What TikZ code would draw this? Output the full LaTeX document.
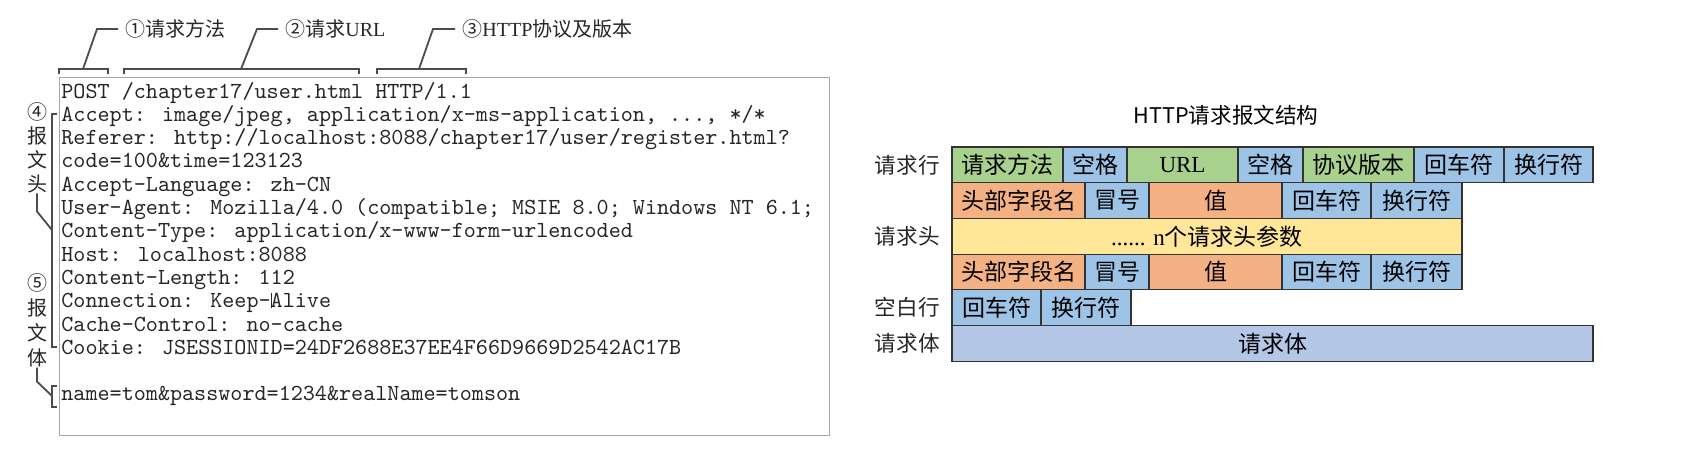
\documentclass[tikz,border=0pt]{standalone}
\usepackage{fontspec}
\setmainfont{Liberation Serif}
\newfontfamily\cjk{Noto Sans CJK SC}
\newfontfamily\codefont{lmmono10-regular.otf}
\usetikzlibrary{positioning}
\definecolor{grn}{HTML}{A9D18E}
\definecolor{blu}{HTML}{9DC3E6}
\definecolor{org}{HTML}{F4B183}
\definecolor{ylw}{HTML}{FFE699}
\definecolor{bdy}{HTML}{B4C7E7}
\begin{document}
\begin{tikzpicture}[x=0.5pt,y=-0.5pt,
    codeln/.style={anchor=base west, inner xsep=1pt, inner ysep=0pt, text=black!85, font=\codefont\fontsize{11.5}{14}\selectfont},
    brk/.style={draw=black!70, line width=0.9pt},
    note/.style={anchor=west, inner xsep=3.5pt, inner ysep=0pt, text=black!85, font=\fontsize{10}{12}\selectfont},
    sidechar/.style={inner sep=0pt, text=black!85, font=\cjk\fontsize{10}{12}\selectfont},
    cell/.style={draw=black!80, line width=0.6pt, outer sep=0pt, inner sep=0pt, minimum height=17.85pt, font=\cjk\fontsize{11.5}{13}\selectfont},
    rowlbl/.style={anchor=east, inner sep=0pt, text=black!85, font=\cjk\fontsize{10.8}{12}\selectfont}]
  \useasboundingbox (0,0) rectangle (1692,463);

  % request text
  \draw[black!35, line width=0.5pt] (59,77) rectangle (829,435);
  \node[codeln] (post) at (59,98) {POST /chapter17/user.html HTTP/1.1};
  \node[codeln] (accept) at (59,121.3) {Accept: image/jpeg, application/x-ms-application, ..., */*};
  \node[codeln] (referer) at (59,144.6) {Referer: http://localhost:8088/chapter17/user/register.html?};
  \node[codeln] (query) at (59,167.9) {code=100\&time=123123};
  \node[codeln] (lang) at (59,191.2) {Accept-Language: zh-CN};
  \node[codeln] (agent) at (59,214.5) {User-Agent: Mozilla/4.0 (compatible; MSIE 8.0; Windows NT 6.1;};
  \node[codeln] (ctype) at (59,237.8) {Content-Type: application/x-www-form-urlencoded};
  \node[codeln] (host) at (59,261.1) {Host: localhost:8088};
  \node[codeln] (clen) at (59,284.4) {Content-Length: 112};
  \node[codeln] (conn) at (59,307.7) {Connection: Keep-\rlap{\rule{0.4pt}{7.5pt}}Alive}; % caret
  \node[codeln] (cache) at (59,331) {Cache-Control: no-cache};
  \node[codeln] (cookie) at (59,354.3) {Cookie: JSESSIONID=24DF2688E37EE4F66D9669D2542AC17B};
  \node[codeln] (form) at (59,400.9) {name=tom\&password=1234\&realName=tomson};

  % top brackets
  \draw[brk] (59,74) -- (59,69) -- (108,69) -- (108,74);
  \draw[brk] (124,74) -- (124,69) -- (359,69) -- (359,74);
  \draw[brk] (377,74) -- (377,69) -- (466,69) -- (466,74);
  \coordinate (b1) at (83,69);
  \coordinate (b2) at (241,69);
  \coordinate (b3) at (419,69);
  \node[note] (n1) at (118,29) {\cjk ①请求方法};
  \node[note] (n2) at (278,29) {{\cjk ②请求}URL};
  \node[note] (n3) at (455,29) {{\cjk ③}HTTP{\cjk 协议及版本}};
  \draw[brk] (b1) -- ++(14,-40) -- (n1.west);
  \draw[brk] (b2) -- ++(16,-40) -- (n2.west);
  \draw[brk] (b3) -- ++(14,-40) -- (n3.west);

  % left brackets
  \draw[brk] (57,114) -- (52,114) -- (52,347) -- (57,347); % headers
  \draw[brk] (57,386) -- (52,386) -- (52,407) -- (57,407); % body
  \coordinate (b4) at (52,230);
  \coordinate (b5) at (52,396);
  \foreach \ch/\yy [count=\i] in {④/112, 报/136, 文/160, 头/184}
    \node[sidechar] (hd\i) at (37,\yy) {\ch};
  \foreach \ch/\yy [count=\i] in {⑤/283, 报/308, 文/333, 体/358}
    \node[sidechar] (bd\i) at (37,\yy) {\ch};
  \draw[brk] (hd4.south) -- ++(0,18) -- (b4);
  \draw[brk] (bd4.south) -- ++(0,14) -- (b5);

  % structure table
  \node[inner sep=0pt, font=\cjk\fontsize{10.8}{13}\selectfont] (ttl) at (1226,115) {HTTP请求报文结构};

  \node[cell, fill=grn, minimum width=55.5pt, anchor=north west] (rmeth) at (952,147) {请求方法};
  \node[cell, fill=blu, minimum width=32pt, right=0pt of rmeth] (rsp1) {空格};
  \node[cell, fill=grn, minimum width=55.5pt, right=0pt of rsp1] (rurl) {\rmfamily URL};
  \node[cell, fill=blu, minimum width=32.5pt, right=0pt of rurl] (rsp2) {空格};
  \node[cell, fill=grn, minimum width=55.5pt, right=0pt of rsp2] (rver) {协议版本};
  \node[cell, fill=blu, minimum width=45pt, right=0pt of rver] (rcr) {回车符};
  \node[cell, fill=blu, minimum width=44.5pt, right=0pt of rcr] (rlf) {换行符};

  \node[cell, fill=org, minimum width=66.5pt, anchor=north west] (h1name) at (952,182.7) {头部字段名};
  \node[cell, fill=blu, minimum width=32pt, right=0pt of h1name] (h1colon) {冒号};
  \node[cell, fill=org, minimum width=66.5pt, right=0pt of h1colon] (h1val) {值};
  \node[cell, fill=blu, minimum width=44.5pt, right=0pt of h1val] (h1cr) {回车符};
  \node[cell, fill=blu, minimum width=45.5pt, right=0pt of h1cr] (h1lf) {换行符};

  \node[cell, fill=ylw, minimum width=255pt, anchor=north west] (hdots) at (952,218.4) {{\rmfamily ...... n}个请求头参数};

  \node[cell, fill=org, minimum width=66.5pt, anchor=north west] (h2name) at (952,254.1) {头部字段名};
  \node[cell, fill=blu, minimum width=32pt, right=0pt of h2name] (h2colon) {冒号};
  \node[cell, fill=org, minimum width=66.5pt, right=0pt of h2colon] (h2val) {值};
  \node[cell, fill=blu, minimum width=44.5pt, right=0pt of h2val] (h2cr) {回车符};
  \node[cell, fill=blu, minimum width=45.5pt, right=0pt of h2cr] (h2lf) {换行符};

  \node[cell, fill=blu, minimum width=44.5pt, anchor=north west] (ecr) at (952,289.8) {回车符};
  \node[cell, fill=blu, minimum width=45pt, right=0pt of ecr] (elf) {换行符};

  \node[cell, fill=bdy, minimum width=320.5pt, anchor=north west] (body) at (952,325.5) {请求体};

  % row labels
  \node[rowlbl, left=6pt of rmeth] (lline) {请求行};
  \node[rowlbl, left=6pt of hdots] (lhead) {请求头};
  \node[rowlbl, left=6pt of ecr] (lblank) {空白行};
  \node[rowlbl, left=6pt of body] (lbody) {请求体};
\end{tikzpicture}
\end{document}
